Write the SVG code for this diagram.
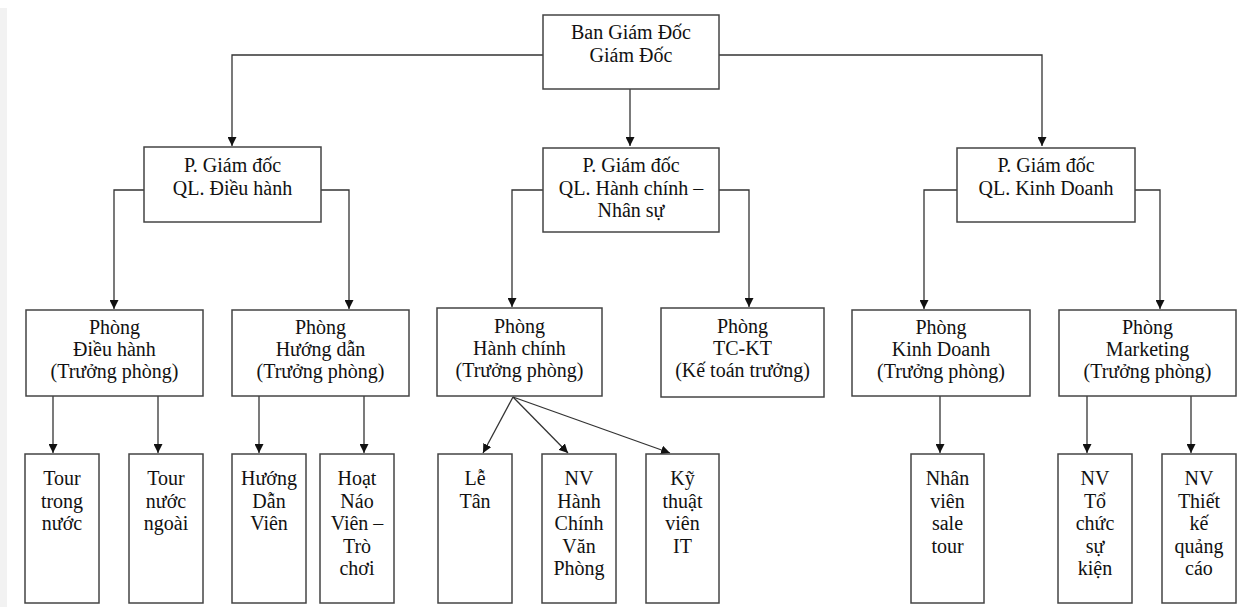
<svg xmlns="http://www.w3.org/2000/svg" width="1245" height="607" viewBox="0 0 1245 607">
<style>
.box{fill:#fff;stroke:#444;stroke-width:1.5}
.t{font-family:"Liberation Serif","Times New Roman",serif;font-size:20px;fill:#111;text-anchor:middle}
.c{fill:none;stroke:#333;stroke-width:1.3;marker-end:url(#ah)}
</style>
<defs>
<marker id="ah" viewBox="0 0 10 10" markerUnits="userSpaceOnUse" markerWidth="9" markerHeight="9" refX="10" refY="5" orient="auto">
<path d="M0,0 L10,5 L0,10 z" fill="#111"/>
</marker>
</defs>
<rect width="1245" height="607" fill="#fff"/>
<rect x="0" y="8" width="7" height="599" fill="#f2f2f2"/>
<g id="connectors">
<path class="c" d="M543,55 H232 V146"/>
<path class="c" d="M630,89 V146"/>
<path class="c" d="M719,55 H1042 V146"/>
<path class="c" d="M144,190 H114 V309"/>
<path class="c" d="M321,190 H349 V309"/>
<path class="c" d="M543,190 H512 V307"/>
<path class="c" d="M719,190 H749 V307"/>
<path class="c" d="M957,190 H924 V309"/>
<path class="c" d="M1135,190 H1160 V309"/>
<path class="c" d="M53,396 V453"/>
<path class="c" d="M158,396 V453"/>
<path class="c" d="M259,396 V453"/>
<path class="c" d="M364,396 V453"/>
<path class="c" d="M513,397 L483,453"/>
<path class="c" d="M513,397 L568,453"/>
<path class="c" d="M513,397 L670,453"/>
<path class="c" d="M940,396 V453"/>
<path class="c" d="M1087,396 V453"/>
<path class="c" d="M1191,396 V453"/>
</g>
<g id="bgd"><rect class="box" x="543" y="15" width="176" height="74"/><text class="t" x="631" y="39">Ban Giám Đốc</text><text class="t" x="631" y="61.5">Giám Đốc</text></g>
<g id="pgd-dh"><rect class="box" x="144" y="147" width="177" height="75"/><text class="t" x="232.5" y="172">P. Giám đốc</text><text class="t" x="232.5" y="194.5">QL. Điều hành</text></g>
<g id="pgd-hc"><rect class="box" x="543" y="148" width="176" height="84"/><text class="t" x="631" y="172">P. Giám đốc</text><text class="t" x="631" y="195">QL. Hành chính –</text><text class="t" x="631" y="217">Nhân sự</text></g>
<g id="pgd-kd"><rect class="box" x="957" y="148" width="178" height="74"/><text class="t" x="1046" y="172">P. Giám đốc</text><text class="t" x="1046" y="194.5">QL. Kinh Doanh</text></g>
<g id="p-dh"><rect class="box" x="26" y="310" width="177" height="86"/><text class="t" x="114.5" y="334">Phòng</text><text class="t" x="114.5" y="356">Điều hành</text><text class="t" x="114.5" y="378">(Trưởng phòng)</text></g>
<g id="p-hd"><rect class="box" x="232" y="310" width="177" height="86"/><text class="t" x="320.5" y="334">Phòng</text><text class="t" x="320.5" y="356">Hướng dẫn</text><text class="t" x="320.5" y="378">(Trưởng phòng)</text></g>
<g id="p-hc"><rect class="box" x="437" y="308" width="165" height="88"/><text class="t" x="519.5" y="333">Phòng</text><text class="t" x="519.5" y="355">Hành chính</text><text class="t" x="519.5" y="377">(Trưởng phòng)</text></g>
<g id="p-tckt"><rect class="box" x="661" y="308" width="163" height="89"/><text class="t" x="742.5" y="333">Phòng</text><text class="t" x="742.5" y="355">TC-KT</text><text class="t" x="742.5" y="377">(Kế toán trưởng)</text></g>
<g id="p-kd"><rect class="box" x="852" y="310" width="178" height="86"/><text class="t" x="941" y="334">Phòng</text><text class="t" x="941" y="356">Kinh Doanh</text><text class="t" x="941" y="378">(Trưởng phòng)</text></g>
<g id="p-mk"><rect class="box" x="1059" y="310" width="177" height="86"/><text class="t" x="1147.5" y="334">Phòng</text><text class="t" x="1147.5" y="356">Marketing</text><text class="t" x="1147.5" y="378">(Trưởng phòng)</text></g>
<g id="tour-tn"><rect class="box" x="25" y="454" width="74" height="149"/><text class="t" x="62" y="485">Tour</text><text class="t" x="62" y="507.5">trong</text><text class="t" x="62" y="530">nước</text></g>
<g id="tour-nn"><rect class="box" x="129" y="454" width="74" height="149"/><text class="t" x="166" y="485">Tour</text><text class="t" x="166" y="507.5">nước</text><text class="t" x="166" y="530">ngoài</text></g>
<g id="hdv"><rect class="box" x="232" y="454" width="74" height="149"/><text class="t" x="269" y="485">Hướng</text><text class="t" x="269" y="507.5">Dẫn</text><text class="t" x="269" y="530">Viên</text></g>
<g id="hnv"><rect class="box" x="320" y="454" width="74" height="149"/><text class="t" x="357" y="485">Hoạt</text><text class="t" x="357" y="507.5">Náo</text><text class="t" x="357" y="530">Viên –</text><text class="t" x="357" y="552.5">Trò</text><text class="t" x="357" y="575">chơi</text></g>
<g id="le-tan"><rect class="box" x="438" y="454" width="74" height="149"/><text class="t" x="475" y="485">Lễ</text><text class="t" x="475" y="507.5">Tân</text></g>
<g id="nv-hc"><rect class="box" x="542" y="454" width="74" height="149"/><text class="t" x="579" y="485">NV</text><text class="t" x="579" y="507.5">Hành</text><text class="t" x="579" y="530">Chính</text><text class="t" x="579" y="552.5">Văn</text><text class="t" x="579" y="575">Phòng</text></g>
<g id="ktv-it"><rect class="box" x="646" y="454" width="73" height="149"/><text class="t" x="682.5" y="485">Kỹ</text><text class="t" x="682.5" y="507.5">thuật</text><text class="t" x="682.5" y="530">viên</text><text class="t" x="682.5" y="552.5">IT</text></g>
<g id="nv-sale"><rect class="box" x="911" y="454" width="73" height="149"/><text class="t" x="947.5" y="485">Nhân</text><text class="t" x="947.5" y="507.5">viên</text><text class="t" x="947.5" y="530">sale</text><text class="t" x="947.5" y="552.5">tour</text></g>
<g id="nv-tc"><rect class="box" x="1058" y="454" width="74" height="149"/><text class="t" x="1095" y="485">NV</text><text class="t" x="1095" y="507.5">Tổ</text><text class="t" x="1095" y="530">chức</text><text class="t" x="1095" y="552.5">sự</text><text class="t" x="1095" y="575">kiện</text></g>
<g id="nv-tk"><rect class="box" x="1162" y="454" width="74" height="149"/><text class="t" x="1199" y="485">NV</text><text class="t" x="1199" y="507.5">Thiết</text><text class="t" x="1199" y="530">kế</text><text class="t" x="1199" y="552.5">quảng</text><text class="t" x="1199" y="575">cáo</text></g>
</svg>
